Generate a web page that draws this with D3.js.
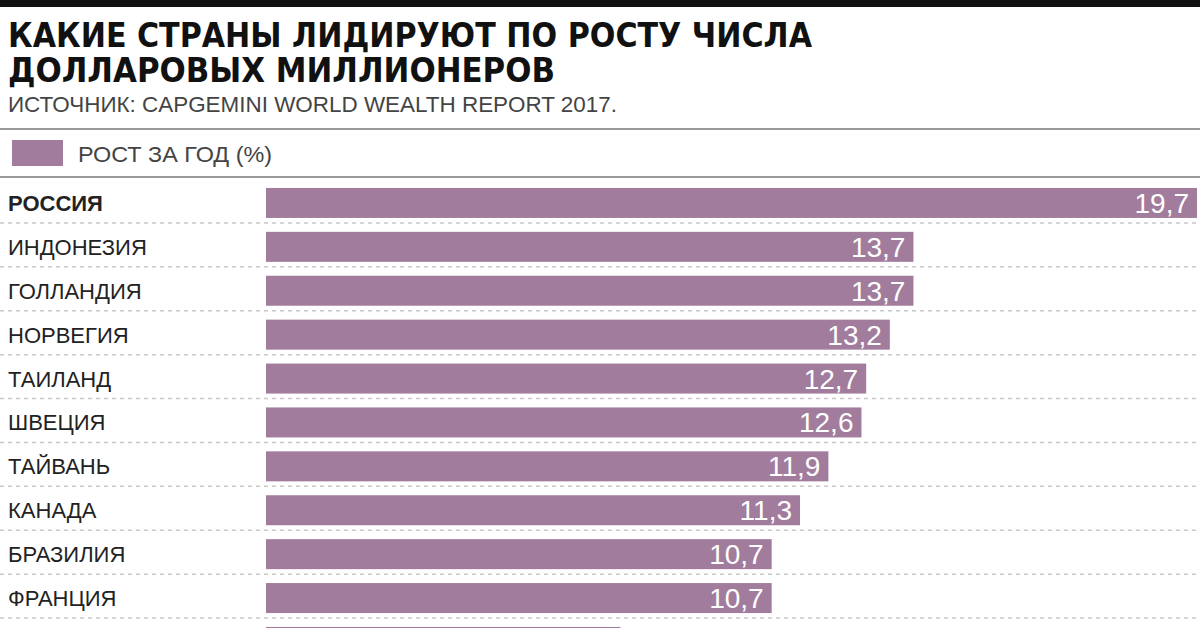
<!DOCTYPE html>
<html>
<head>
<meta charset="utf-8">
<script src="https://cdn.jsdelivr.net/npm/d3@7"></script>
<style>
  body { margin: 0; background: #fff; }
  text { font-family: "Liberation Sans", Arial, sans-serif; }
</style>
</head>
<body>
<script>
var width = 1200, height = 628;
var barColor = "#a27c9d";

// data
var countries = ["РОССИЯ", "ИНДОНЕЗИЯ", "ГОЛЛАНДИЯ", "НОРВЕГИЯ", "ТАИЛАНД", "ШВЕЦИЯ",
                 "ТАЙВАНЬ", "КАНАДА", "БРАЗИЛИЯ", "ФРАНЦИЯ", ""];
var growth = [19.7, 13.7, 13.7, 13.2, 12.7, 12.6, 11.9, 11.3, 10.7, 10.7, 7.5];
var titleLines = ["КАКИЕ СТРАНЫ ЛИДИРУЮТ ПО РОСТУ ЧИСЛА", "ДОЛЛАРОВЫХ МИЛЛИОНЕРОВ"];
var sourceText = "ИСТОЧНИК: CAPGEMINI WORLD WEALTH REPORT 2017.";
var legendText = "РОСТ ЗА ГОД (%)";

var rows = countries.map(function(c, i){ return {name: c, value: growth[i]}; });

var svg = d3.select("body").append("svg")
            .attr("width", width).attr("height", height);

// black strip on top
svg.append("rect").attr("x", 0).attr("y", 0).attr("width", width).attr("height", 7).attr("fill", "#111");

// title (heavy font, squeezed to the reference width)
svg.append("text").attr("x", 8).attr("y", 47).text(titleLines[0])
   .style("font-family", "'DejaVu Sans', sans-serif")
   .attr("font-size", 34).attr("font-weight", "bold").attr("fill", "#111")
   .attr("textLength", 804).attr("lengthAdjust", "spacingAndGlyphs");
svg.append("text").attr("x", 8).attr("y", 82).text(titleLines[1])
   .style("font-family", "'DejaVu Sans', sans-serif")
   .attr("font-size", 34).attr("font-weight", "bold").attr("fill", "#111")
   .attr("textLength", 547).attr("lengthAdjust", "spacingAndGlyphs");
svg.append("text").attr("x", 8).attr("y", 112).text(sourceText)
   .attr("font-size", 22).attr("fill", "#444")
   .attr("textLength", 609).attr("lengthAdjust", "spacingAndGlyphs");

// separators
svg.append("line").attr("x1", 0).attr("x2", width).attr("y1", 129).attr("y2", 129)
   .attr("stroke", "#999").attr("stroke-width", 2);
svg.append("line").attr("x1", 0).attr("x2", width).attr("y1", 177).attr("y2", 177)
   .attr("stroke", "#999").attr("stroke-width", 2);

// legend
svg.append("rect").attr("x", 12).attr("y", 140).attr("width", 51).attr("height", 26).attr("fill", barColor);
svg.append("text").attr("x", 78).attr("y", 162).text(legendText)
   .attr("font-size", 22).attr("fill", "#444")
   .attr("textLength", 194).attr("lengthAdjust", "spacingAndGlyphs");

// scales
var x = d3.scaleLinear().domain([0, d3.max(growth)]).range([266, 1197]);
var y = d3.scaleBand().domain(countries).range([181, 181 + 11 * 43.9])
          .paddingInner(0.3166).paddingOuter(0.1583);
var fmt = d3.formatLocale({decimal: ",", thousands: " ", grouping: [3], currency: ["", ""]}).format(".1f");

// dashed row separators
svg.append("g").selectAll("line").data(rows).enter().append("line")
   .attr("x1", 0).attr("x2", width)
   .attr("y1", function(d){ return y(d.name) + y.bandwidth() + 5; })
   .attr("y2", function(d){ return y(d.name) + y.bandwidth() + 5; })
   .attr("stroke", "#c8c8c8").attr("stroke-width", 1.5).attr("stroke-dasharray", "4,4");

var row = svg.append("g").selectAll(".row").data(rows).enter().append("g").classed("row", true);

row.append("rect")
   .attr("x", x(0))
   .attr("y", function(d){ return y(d.name); })
   .attr("width", function(d){ return x(d.value) - x(0); })
   .attr("height", y.bandwidth())
   .attr("fill", barColor);

row.append("text")
   .attr("x", 8)
   .attr("y", function(d){ return y(d.name) + y.bandwidth() / 2 + 8; })
   .attr("font-size", 22)
   .attr("font-weight", function(d, i){ return i == 0 ? "bold" : "normal"; })
   .attr("fill", "#222")
   .text(function(d){ return d.name; });

// value labels only for rows whose text fits in the picture
row.filter(function(d){ return y(d.name) + y.bandwidth() / 2 + 10 < height; })
   .append("text")
   .attr("x", function(d){ return x(d.value) - 8; })
   .attr("y", function(d){ return y(d.name) + y.bandwidth() / 2 + 10; })
   .attr("text-anchor", "end")
   .attr("font-size", 28)
   .attr("fill", "#fff")
   .text(function(d){ return fmt(d.value); });
</script>
</body>
</html>
